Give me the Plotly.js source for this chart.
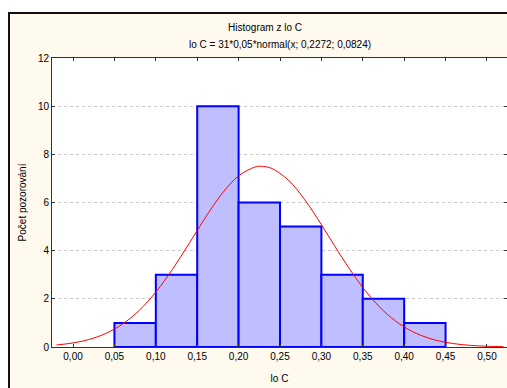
<!DOCTYPE html>
<html>
<head>
<meta charset="utf-8">
<script src="https://cdn.plot.ly/plotly-3.0.1.min.js"></script>
<style>
html, body { margin: 0; padding: 0; background: #ffffff; overflow: hidden; width: 507px; height: 388px; }
#chart { position: absolute; left: 8px; top: 12px; width: 510px; height: 380px; border-top: 2px solid #111; border-left: 2px solid #111; background: #FFF9EE; }
</style>
</head>
<body>
<div id="chart"></div>
<script>
// Histogram bins (class centres) and counts
const binCenters = [0.075, 0.125, 0.175, 0.225, 0.275, 0.325, 0.375, 0.425];
const binCounts  = [1, 3, 10, 6, 5, 3, 2, 1];
const binWidth = 0.05;

// Fitted normal curve: lo C = 31*0,05*normal(x; 0,2272; 0,0824)
const curveX = [-0.02, 0.00, 0.02, 0.04, 0.06, 0.08, 0.10, 0.12, 0.14, 0.16, 0.18, 0.20, 0.22, 0.2272, 0.24, 0.26, 0.28, 0.30, 0.32, 0.34, 0.36, 0.38, 0.40, 0.42, 0.44, 0.46, 0.48, 0.50, 0.52];
const curveY = [0.083, 0.168, 0.318, 0.568, 0.958, 1.522, 2.280, 3.219, 4.286, 5.381, 6.369, 7.106, 7.475, 7.504, 7.414, 6.932, 6.111, 5.079, 3.980, 2.940, 2.048, 1.345, 0.832, 0.486, 0.267, 0.139, 0.068, 0.031, 0.014];

const xTicks = [0.00, 0.05, 0.10, 0.15, 0.20, 0.25, 0.30, 0.35, 0.40, 0.45, 0.50];
const yTicks = [0, 2, 4, 6, 8, 10, 12];

const titleText = 'Histogram z lo C';
const subtitleText = 'lo C = 31*0,05*normal(x; 0,2272; 0,0824)';
const xTitle = 'lo C';
const yTitle = 'Počet pozorování';

const FONT = 'Liberation Sans, Arial, sans-serif';

const traces = [
  {
    type: 'bar',
    x: binCenters,
    y: binCounts,
    width: binWidth,
    marker: { color: '#BFBFFF', line: { color: '#0000FF', width: 2 } },
    hoverinfo: 'x+y'
  },
  {
    type: 'scatter',
    mode: 'lines',
    x: curveX,
    y: curveY,
    line: { color: '#FF0000', width: 1, shape: 'spline' },
    hoverinfo: 'x+y'
  }
];

const layout = {
  width: 510,
  height: 380,
  margin: { l: 42, r: 13, t: 44, b: 47 },
  paper_bgcolor: 'rgba(0,0,0,0)',
  plot_bgcolor: '#FFFFFF',
  showlegend: false,
  separators: ', ',
  font: { family: FONT, size: 10, color: '#000' },
  title: { text: titleText, x: 0.5, xanchor: 'center', y: 1 - 13 / 380, yanchor: 'middle', font: { family: FONT, size: 10, color: '#000' } },
  annotations: [
    { text: subtitleText, xref: 'paper', yref: 'paper', x: 0.5, y: 1, yshift: 14, xanchor: 'center', yanchor: 'middle', showarrow: false, font: { family: FONT, size: 10, color: '#000' } }
  ],
  xaxis: {
    range: [-0.0254, 0.5242],
    tickvals: xTicks,
    tickformat: '.2f',
    ticks: 'inside',
    ticklen: 3,
    tickcolor: '#333',
    showgrid: false,
    zeroline: false,
    showline: true,
    linecolor: '#333',
    linewidth: 1,
    mirror: 'ticks',
    tickfont: { family: FONT, size: 10, color: '#000' },
    title: { text: xTitle, font: { family: FONT, size: 10, color: '#000' }, standoff: 13 }
  },
  yaxis: {
    range: [0, 12],
    tickvals: yTicks,
    ticks: 'inside',
    ticklen: 3,
    tickcolor: '#333',
    showgrid: true,
    gridcolor: '#C8C8C8',
    griddash: 'dot',
    gridwidth: 1,
    zeroline: false,
    showline: true,
    linecolor: '#333',
    linewidth: 1,
    mirror: 'ticks',
    tickfont: { family: FONT, size: 10, color: '#000' },
    title: { text: yTitle, font: { family: FONT, size: 10, color: '#000' }, standoff: 9 }
  },
  bargap: 0
};

Plotly.newPlot('chart', traces, layout, { displayModeBar: false, staticPlot: true });
</script>
</body>
</html>
